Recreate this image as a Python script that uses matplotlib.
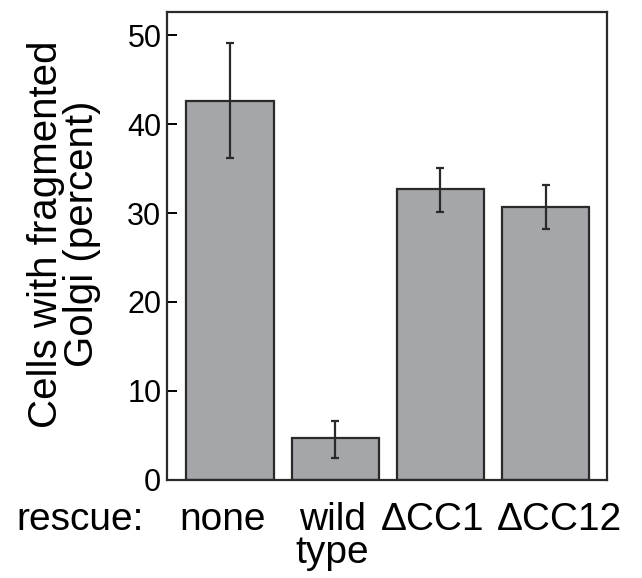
import numpy as np
import matplotlib.pyplot as plt
import matplotlib.transforms as mtransforms

plt.rcParams['font.family'] = ['Liberation Sans', 'DejaVu Sans']

# data
groups = ["none", "wild\ntype", "\u0394CC1", "\u0394CC12"]
percent = [42.6, 4.7, 32.7, 30.7]
err_low = [36.2, 2.5, 30.1, 28.2]
err_high = [49.1, 6.6, 35.1, 33.1]

yerr = np.array([np.array(percent) - np.array(err_low),
                 np.array(err_high) - np.array(percent)])

fig = plt.figure(figsize=(6.42, 5.78), dpi=100)
ax = fig.add_axes([0.26, 0.17, 0.685, 0.809])

x = np.arange(len(groups))
ax.bar(x, percent, width=0.83, color='#a5a6aa', edgecolor='#2a2a2a', linewidth=1.6,
       yerr=yerr, error_kw=dict(ecolor='#2a2a2a', elinewidth=1.6, capsize=2.6, capthick=1.6))

ax.set_xlim(-0.6, 3.58)
ax.set_ylim(0, 52.6)
ax.set_yticks([0, 10, 20, 30, 40, 50])
ax.set_xticks(x)
ax.set_xticklabels(groups, fontsize=28, linespacing=0.9)
ax.tick_params(axis='x', length=0, pad=16)
ax.tick_params(axis='y', direction='in', length=7, width=1.4, labelsize=22, pad=4)
for s in ax.spines.values():
    s.set_linewidth(1.6)
    s.set_color('#2a2a2a')

# small horizontal nudges of the category labels, as in the original layout
nudges = [-5, -2, -6, 10]
for lab, dx in zip(ax.get_xticklabels(), nudges):
    lab.set_transform(lab.get_transform() + mtransforms.ScaledTranslation(dx / 72, 0, fig.dpi_scale_trans))

ax.set_ylabel("Cells with fragmented\nGolgi (percent)", fontsize=29, linespacing=0.92)
ax.yaxis.set_label_coords(-0.15, 0.525)
fig.text(0.025, 0.083, "rescue:", fontsize=28, va='baseline', ha='left')

plt.savefig('out.png', dpi=100)
